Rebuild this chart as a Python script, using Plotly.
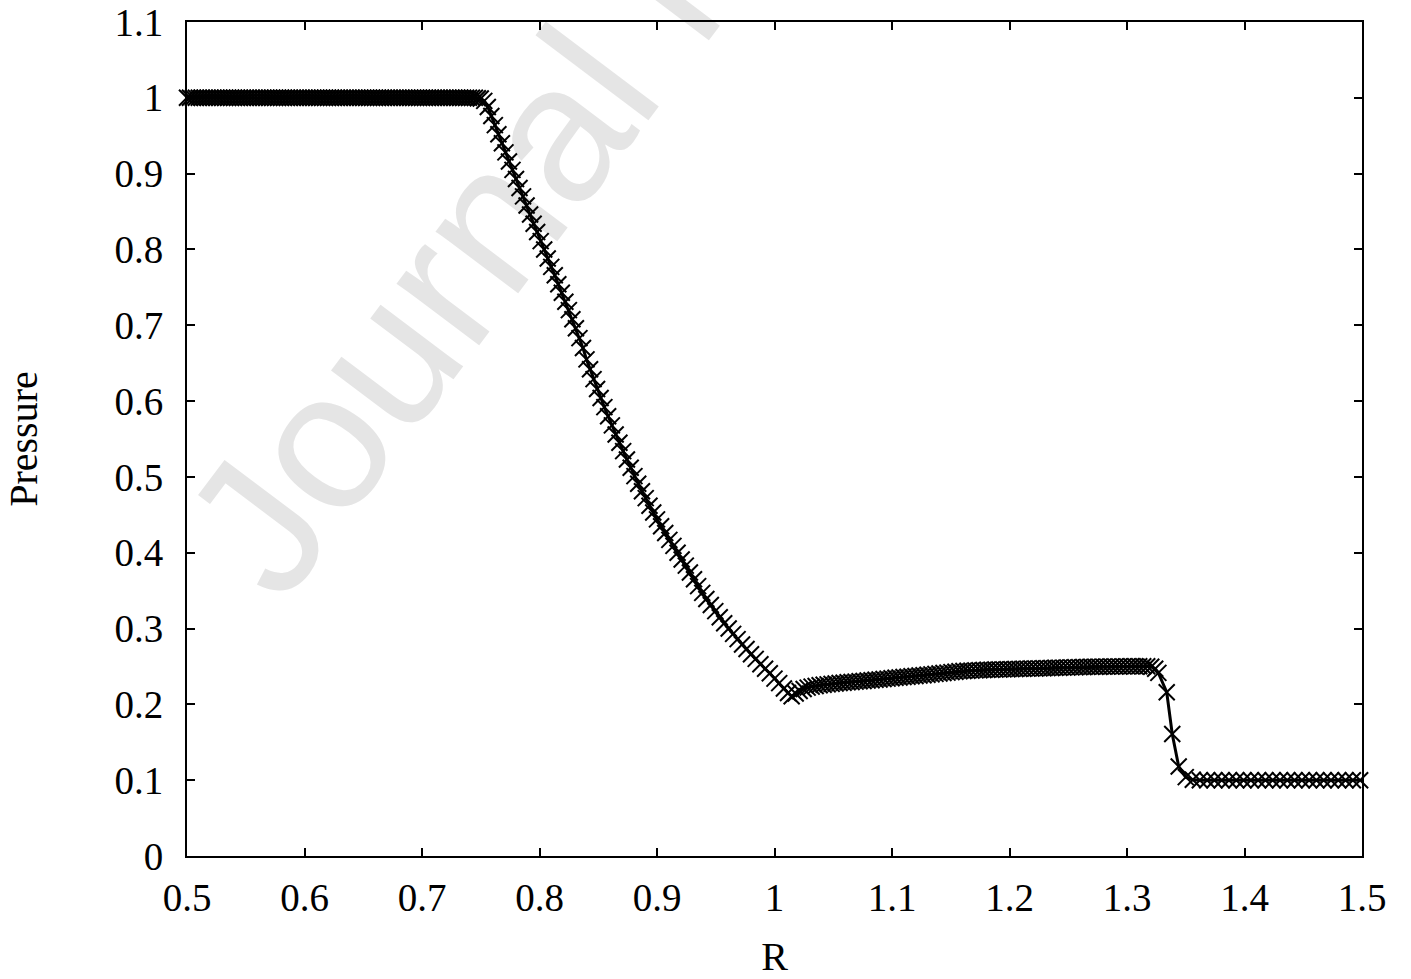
import plotly.graph_objects as go

# left state (undisturbed, p = 1)
r_left = [
    0.5000, 0.5025, 0.5050, 0.5075, 0.5100, 0.5125, 0.5150, 0.5175, 0.5200, 0.5225,
    0.5250, 0.5275, 0.5300, 0.5325, 0.5350, 0.5375, 0.5400, 0.5425, 0.5450, 0.5475,
    0.5500, 0.5525, 0.5550, 0.5575, 0.5600, 0.5625, 0.5650, 0.5675, 0.5700, 0.5725,
    0.5750, 0.5775, 0.5800, 0.5825, 0.5850, 0.5875, 0.5900, 0.5925, 0.5950, 0.5975,
    0.6000, 0.6025, 0.6050, 0.6075, 0.6100, 0.6125, 0.6150, 0.6175, 0.6200, 0.6225,
    0.6250, 0.6275, 0.6300, 0.6325, 0.6350, 0.6375, 0.6400, 0.6425, 0.6450, 0.6475,
    0.6500, 0.6525, 0.6550, 0.6575, 0.6600, 0.6625, 0.6650, 0.6675, 0.6700, 0.6725,
    0.6750, 0.6775, 0.6800, 0.6825, 0.6850, 0.6875, 0.6900, 0.6925, 0.6950, 0.6975,
    0.7000, 0.7025, 0.7050, 0.7075, 0.7100, 0.7125, 0.7150, 0.7175, 0.7200, 0.7225,
    0.7250, 0.7275, 0.7300, 0.7325, 0.7350, 0.7375, 0.7400, 0.7425, 0.7450, 0.7475,
    0.7500,
]
p_left = [
    1.000, 1.000, 1.000, 1.000, 1.000, 1.000, 1.000, 1.000, 1.000, 1.000,
    1.000, 1.000, 1.000, 1.000, 1.000, 1.000, 1.000, 1.000, 1.000, 1.000,
    1.000, 1.000, 1.000, 1.000, 1.000, 1.000, 1.000, 1.000, 1.000, 1.000,
    1.000, 1.000, 1.000, 1.000, 1.000, 1.000, 1.000, 1.000, 1.000, 1.000,
    1.000, 1.000, 1.000, 1.000, 1.000, 1.000, 1.000, 1.000, 1.000, 1.000,
    1.000, 1.000, 1.000, 1.000, 1.000, 1.000, 1.000, 1.000, 1.000, 1.000,
    1.000, 1.000, 1.000, 1.000, 1.000, 1.000, 1.000, 1.000, 1.000, 1.000,
    1.000, 1.000, 1.000, 1.000, 1.000, 1.000, 1.000, 1.000, 1.000, 1.000,
    1.000, 1.000, 1.000, 1.000, 1.000, 1.000, 1.000, 1.000, 1.000, 1.000,
    1.000, 1.000, 1.000, 1.000, 1.000, 1.000, 1.000, 1.000, 1.000, 0.9995,
    0.999,
]

# rarefaction fan
r_fan = [
    0.7530, 0.7560, 0.7590, 0.7620, 0.7650, 0.7680, 0.7710, 0.7740, 0.7770, 0.7800,
    0.7830, 0.7860, 0.7890, 0.7920, 0.7950, 0.7980, 0.8010, 0.8040, 0.8070, 0.8100,
    0.8130, 0.8160, 0.8190, 0.8220, 0.8250, 0.8280, 0.8310, 0.8340, 0.8370, 0.8400,
    0.8430, 0.8460, 0.8490, 0.8520, 0.8552, 0.8584, 0.8616, 0.8648, 0.8680, 0.8712,
    0.8744, 0.8776, 0.8808, 0.8840, 0.8872, 0.8904, 0.8936, 0.8968, 0.9000, 0.9035,
    0.9070, 0.9105, 0.9140, 0.9175, 0.9210, 0.9245, 0.9280, 0.9315, 0.9350, 0.9385,
    0.9420, 0.9458, 0.9496, 0.9534, 0.9572, 0.9610, 0.9648, 0.9686, 0.9724, 0.9762,
    0.9800, 0.9840, 0.9880, 0.9920, 0.9960, 1.0000, 1.0040, 1.0080, 1.0115, 1.0146,
]
p_fan = [
    0.996, 0.988, 0.976, 0.964, 0.952, 0.940, 0.928, 0.916, 0.905, 0.893,
    0.881, 0.870, 0.858, 0.846, 0.834, 0.823, 0.811, 0.800, 0.788, 0.777,
    0.766, 0.754, 0.743, 0.731, 0.720, 0.708, 0.696, 0.683, 0.670, 0.655,
    0.642, 0.629, 0.616, 0.604, 0.592, 0.580, 0.568, 0.556, 0.545, 0.534,
    0.523, 0.512, 0.501, 0.491, 0.481, 0.472, 0.462, 0.453, 0.444, 0.435,
    0.426, 0.417, 0.409, 0.400, 0.391, 0.383, 0.374, 0.365, 0.356, 0.347,
    0.339, 0.331, 0.323, 0.315, 0.307, 0.300, 0.293, 0.286, 0.279, 0.273,
    0.266, 0.260, 0.253, 0.247, 0.241, 0.234, 0.228, 0.221, 0.215, 0.2106,
]

# plateau between rarefaction tail and shock
r_plateau = [
    1.0180, 1.0214, 1.0248, 1.0282, 1.0316, 1.0350, 1.0384, 1.0418, 1.0452, 1.0486,
    1.0520, 1.0554, 1.0588, 1.0622, 1.0656, 1.0690, 1.0724, 1.0758, 1.0792, 1.0826,
    1.0860, 1.0894, 1.0928, 1.0962, 1.0996, 1.1030, 1.1064, 1.1098, 1.1132, 1.1166,
    1.1200, 1.1234, 1.1268, 1.1302, 1.1336, 1.1370, 1.1404, 1.1438, 1.1472, 1.1506,
    1.1540, 1.1574, 1.1608, 1.1642, 1.1676, 1.1710, 1.1744, 1.1778, 1.1812, 1.1846,
    1.1880, 1.1914, 1.1948, 1.1982, 1.2016, 1.2050, 1.2084, 1.2118, 1.2152, 1.2186,
    1.2220, 1.2254, 1.2288, 1.2322, 1.2356, 1.2390, 1.2424, 1.2458, 1.2492, 1.2526,
    1.2560, 1.2594, 1.2628, 1.2662, 1.2696, 1.2730, 1.2764, 1.2798, 1.2832, 1.2866,
    1.2900, 1.2934, 1.2968, 1.3002, 1.3036, 1.3070, 1.3104, 1.3138, 1.3172, 1.3206,
    1.3240,
]
p_plateau = [
    0.2143, 0.2176, 0.2203, 0.2221, 0.2234, 0.2243, 0.2251, 0.2258, 0.2264, 0.2270,
    0.2275, 0.2281, 0.2286, 0.2291, 0.2295, 0.2300, 0.2304, 0.2309, 0.2314, 0.2319,
    0.2324, 0.2329, 0.2334, 0.2339, 0.2344, 0.2350, 0.2355, 0.2360, 0.2365, 0.2370,
    0.2375, 0.2380, 0.2385, 0.2390, 0.2396, 0.2402, 0.2408, 0.2413, 0.2419, 0.2425,
    0.2430, 0.2436, 0.2440, 0.2443, 0.2445, 0.2448, 0.2451, 0.2454, 0.2456, 0.2457,
    0.2459, 0.2460, 0.2462, 0.2463, 0.2465, 0.2466, 0.2468, 0.2469, 0.2471, 0.2472,
    0.2474, 0.2475, 0.2477, 0.2478, 0.2480, 0.2482, 0.2483, 0.2485, 0.2486, 0.2488,
    0.2489, 0.2491, 0.2492, 0.2494, 0.2495, 0.2496, 0.2497, 0.2498, 0.2498, 0.2499,
    0.2500, 0.2500, 0.2501, 0.2501, 0.2502, 0.2502, 0.2503, 0.2503, 0.2502, 0.2496,
    0.2470,
]

# shock front
r_shock = [1.3267, 1.3338, 1.3385, 1.3440, 1.3500, 1.3560]
p_shock = [0.2415, 0.2160, 0.1610, 0.1180, 0.1040, 0.1005]

# right state (undisturbed, p = 0.1)
r_right = [
    1.3620, 1.3682, 1.3744, 1.3806, 1.3868, 1.3930, 1.3992, 1.4054, 1.4116, 1.4178,
    1.4240, 1.4302, 1.4364, 1.4426, 1.4488, 1.4550, 1.4612, 1.4674, 1.4736, 1.4798,
    1.4860, 1.4922, 1.4984,
]
p_right = [
    0.100, 0.100, 0.100, 0.100, 0.100, 0.100, 0.100, 0.100, 0.100, 0.100,
    0.100, 0.100, 0.100, 0.100, 0.100, 0.100, 0.100, 0.100, 0.100, 0.100,
    0.100, 0.100, 0.100,
]

x_ticks = [0.5, 0.6, 0.7, 0.8, 0.9, 1.0, 1.1, 1.2, 1.3, 1.4, 1.5]
y_ticks = [0, 0.1, 0.2, 0.3, 0.4, 0.5, 0.6, 0.7, 0.8, 0.9, 1.0, 1.1]

r_all = r_left + r_fan + r_plateau + r_shock + r_right
p_all = p_left + p_fan + p_plateau + p_shock + p_right

SERIF = "Liberation Serif, Times New Roman, serif"

fig = go.Figure()

fig.add_trace(go.Scatter(
    x=r_all, y=p_all,
    mode="lines+markers",
    line=dict(color="black", width=3),
    marker=dict(symbol="x-thin", size=16, color="black",
                line=dict(color="black", width=2)),
    cliponaxis=False,
    showlegend=False,
))

# "Journal Pre-proof" watermark, drawn under the data
fig.add_shape(
    type="rect", xref="paper", yref="paper",
    x0=0.407, x1=0.409, y0=1.081, y1=1.083,
    line=dict(width=0), fillcolor="rgba(0,0,0,0)",
    layer="below",
    label=dict(text="Journal Pre-proof", textangle=-53,
               textposition="middle center",
               font=dict(family="Liberation Sans, Arial, sans-serif",
                         size=195, color="#e5e5e5")),
)

axis_common = dict(
    showline=True, linecolor="black", linewidth=2, mirror="ticks",
    ticks="inside", ticklen=8, tickwidth=1.5, tickcolor="black",
    showgrid=False, zeroline=False, automargin=False,
    tickfont=dict(family=SERIF, size=39, color="black"),
    title_font=dict(family=SERIF, size=40, color="black"),
)

fig.update_xaxes(range=[0.5, 1.5], tickvals=x_ticks,
                 ticktext=[f"{v:g}" for v in x_ticks],
                 ticklabelstandoff=6,
                 title_text="R", title_standoff=25, **axis_common)
fig.update_yaxes(range=[0, 1.1], tickvals=y_ticks,
                 ticktext=[f"{v:g}" for v in y_ticks],
                 ticklabelstandoff=14,
                 title_text="Pressure", title_standoff=64, **axis_common)

fig.update_layout(
    width=1411, height=979, autosize=False,
    margin=dict(l=187, r=49, t=22, b=123),
    paper_bgcolor="white", plot_bgcolor="white",
    font=dict(family=SERIF, color="black"),
)

# drop the default 8 px body margin so the figure sits at the page corner
fig.write_html("out.html", config={"displayModeBar": False},
               post_script="document.body.style.margin='0px';")
